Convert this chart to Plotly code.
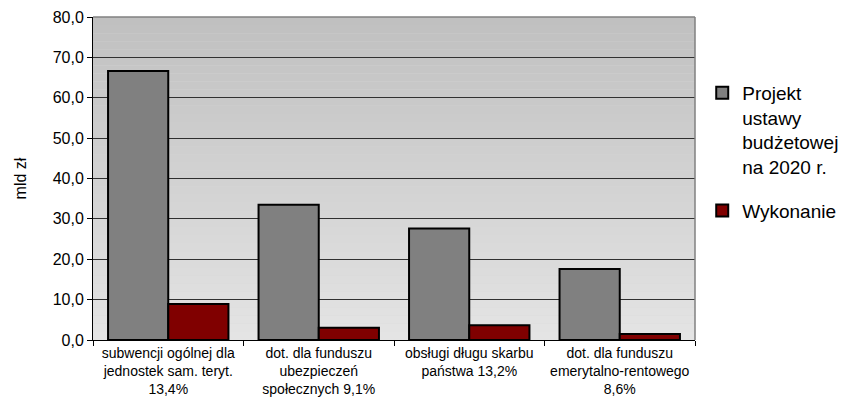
import plotly.graph_objects as go

categories = [
    "subwencji ogólnej dla<br>jednostek sam. teryt.<br>13,4%",
    "dot. dla funduszu<br>ubezpieczeń<br>społecznych 9,1%",
    "obsługi długu skarbu<br>państwa 13,2%",
    "dot. dla funduszu<br>emerytalno-rentowego<br>8,6%",
]
projekt = [66.6, 33.5, 27.6, 17.6]
wykonanie = [8.9, 3.05, 3.64, 1.51]
series_names = ["Projekt<br>ustawy<br>budżetowej<br>na 2020 r.", "Wykonanie"]
y_ticks = [0, 10, 20, 30, 40, 50, 60, 70, 80]

FONT = "Liberation Sans"

fig = go.Figure()
fig.add_trace(go.Bar(x=categories, y=projekt, name=series_names[0], legendgroup="a",
                     marker=dict(color="#808080", line=dict(color="#000000", width=2))))
fig.add_trace(go.Bar(x=categories, y=wykonanie, name=series_names[1], legendgroup="b",
                     marker=dict(color="#800000", line=dict(color="#000000", width=2))))

# gradient background bands
shapes = []
n = 40
top = (192, 192, 192)
bot = (228, 228, 228)
for i in range(n):
    t = (i + 0.5) / n
    c = tuple(int(round(bot[k] + (top[k] - bot[k]) * t)) for k in range(3))
    shapes.append(dict(type="rect", xref="x domain", yref="y domain",
                       x0=0, x1=1, y0=i / n, y1=(i + 1) / n,
                       fillcolor="rgb(%d,%d,%d)" % c, line=dict(width=0), layer="below"))
shapes.append(dict(type="line", xref="x domain", yref="y domain", x0=0, x1=1, y0=1, y1=1,
                   line=dict(color="#808080", width=1.5)))
shapes.append(dict(type="line", xref="x domain", yref="y domain", x0=1, x1=1, y0=0, y1=1,
                   line=dict(color="#808080", width=1.5)))

fig.update_layout(
    width=846, height=400,
    margin=dict(l=93, r=151, t=17, b=60, autoexpand=False),
    paper_bgcolor="white", plot_bgcolor="#d8d8d8",
    separators=", ",
    barmode="group", bargap=0.2, bargroupgap=0,
    font=dict(family=FONT, color="#000000"),
    shapes=shapes,
    showlegend=True,
    legend=dict(x=1.012, y=0.824, xanchor="left", yanchor="top",
                font=dict(size=19, family=FONT), valign="top",
                bgcolor="rgba(0,0,0,0)", tracegroupgap=16, itemwidth=30,
                traceorder="grouped"),
    xaxis=dict(showgrid=False, showline=True, linecolor="#000000", linewidth=1,
               ticks="outside", tickson="boundaries", ticklen=5, tickcolor="#000000",
               tickfont=dict(size=14, family=FONT), fixedrange=True),
    yaxis=dict(range=[0, 80], tickvals=y_ticks, tickformat=".1f",
               showgrid=True, gridcolor="#303030", gridwidth=1,
               showline=True, linecolor="#000000", linewidth=1,
               ticks="outside", ticklen=5, tickcolor="#000000",
               tickfont=dict(size=16, family=FONT),
               title=dict(text="mld zł", font=dict(size=16, family=FONT), standoff=22),
               zeroline=False, fixedrange=True),
)

fig.write_html("out.html", config={"displayModeBar": False},
               post_script="document.body.style.margin='0';document.body.style.overflow='hidden';")
